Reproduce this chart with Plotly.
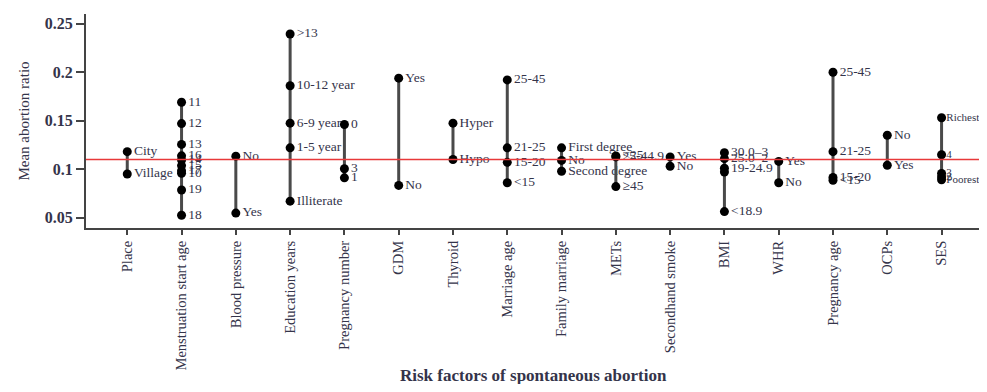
import plotly.graph_objects as go

categories = ["Place", "Menstruation start age", "Blood pressure", "Education years",
              "Pregnancy number", "GDM", "Thyroid", "Marriage age", "Family marriage",
              "METs", "Secondhand smoke", "BMI", "WHR", "Pregnancy age", "OCPs", "SES"]

place_vals = [0.118, 0.095]
place_labels = ["City", "Village"]
menstruation_vals = [0.169, 0.147, 0.1255, 0.1137, 0.1094, 0.1037, 0.0983, 0.0957, 0.0785, 0.0525]
menstruation_labels = ["11", "12", "13", "16", "14", "15", "17", "10", "19", "18"]
bp_vals = [0.1134, 0.0547]
bp_labels = ["No", "Yes"]
education_vals = [0.2394, 0.186, 0.1474, 0.122, 0.067]
education_labels = [">13", "10-12 year", "6-9 year", "1-5 year", "Illiterate"]
pregnancy_number_vals = [0.146, 0.1004, 0.091]
pregnancy_number_labels = ["0", "3", "1"]
gdm_vals = [0.1938, 0.0832]
gdm_labels = ["Yes", "No"]
thyroid_vals = [0.1474, 0.110]
thyroid_labels = ["Hyper", "Hypo"]
marriage_age_vals = [0.192, 0.122, 0.107, 0.086]
marriage_age_labels = ["25-45", "21-25", "15-20", "<15"]
family_marriage_vals = [0.122, 0.109, 0.0978]
family_marriage_labels = ["First degree", "No", "Second degree"]
mets_vals = [0.1136, 0.1126, 0.082]
mets_labels = ["<25", "25-44.9", "≥45"]
smoke_vals = [0.1126, 0.103]
smoke_labels = ["Yes", "No"]
bmi_vals = [0.117, 0.1108, 0.101, 0.097, 0.0562]
bmi_labels = ["30.0–3", "25.0–2", "19-24.9", "", "<18.9"]
whr_vals = [0.108, 0.086]
whr_labels = ["Yes", "No"]
pregnancy_age_vals = [0.1999, 0.118, 0.0914, 0.0886]
pregnancy_age_labels = ["25-45", "21-25", "15-20", "<15"]
ocps_vals = [0.135, 0.104]
ocps_labels = ["No", "Yes"]
ses_vals = [0.153, 0.1148, 0.0955, 0.092, 0.089]
ses_labels = ["Richest", "4", "3", "2", "Poorest"]

overall_mean = 0.110

y_tick_vals = [0.05, 0.1, 0.15, 0.2, 0.25]
y_tick_text = ["0.05", "0.1", "0.15", "0.2", "0.25"]

all_vals = [place_vals, menstruation_vals, bp_vals, education_vals, pregnancy_number_vals,
            gdm_vals, thyroid_vals, marriage_age_vals, family_marriage_vals, mets_vals,
            smoke_vals, bmi_vals, whr_vals, pregnancy_age_vals, ocps_vals, ses_vals]
all_labels = [place_labels, menstruation_labels, bp_labels, education_labels,
              pregnancy_number_labels, gdm_labels, thyroid_labels, marriage_age_labels,
              family_marriage_labels, mets_labels, smoke_labels, bmi_labels, whr_labels,
              pregnancy_age_labels, ocps_labels, ses_labels]

FONT = "Liberation Serif"
TXT = "#34344a"

fig = go.Figure()

for cat, vals, labs in zip(categories, all_vals, all_labels):
    fig.add_trace(go.Scatter(
        x=[cat, cat], y=[min(vals), max(vals)], mode="lines",
        line=dict(color="#4a4a4a", width=3), hoverinfo="skip", showlegend=False))
    if cat == "SES":
        # labels drawn from a separate text layer so they sit closer to the dots
        fig.add_trace(go.Scatter(
            x=[cat] * len(vals), y=vals, mode="markers",
            marker=dict(color="black", size=9), hoverinfo="skip", showlegend=False))
        fig.add_trace(go.Scatter(
            x=[cat] * len(vals), y=vals, mode="markers+text", text=labs,
            textposition="middle right", cliponaxis=False,
            textfont=dict(family=FONT, size=11, color=TXT),
            marker=dict(color="rgba(0,0,0,0)", size=6), hoverinfo="skip", showlegend=False))
    else:
        fig.add_trace(go.Scatter(
            x=[cat] * len(vals), y=vals, mode="markers+text", text=labs,
            textposition="middle right", cliponaxis=False,
            textfont=dict(family=FONT, size=13.5, color=TXT),
            marker=dict(color="black", size=9), hoverinfo="skip", showlegend=False))

fig.add_shape(type="line", xref="paper", x0=0, x1=1, yref="y", y0=overall_mean, y1=overall_mean,
              line=dict(color="#e8383a", width=1.5), layer="above")

fig.update_layout(
    width=979, height=376,
    margin=dict(l=78, r=2, t=6, b=156),
    paper_bgcolor="white", plot_bgcolor="white",
    font=dict(family=FONT, color=TXT),
    xaxis=dict(
        type="category", categoryorder="array", categoryarray=categories,
        range=[-0.76, 15.8], showgrid=False, zeroline=False,
        showline=True, linecolor="#444", linewidth=2,
        ticks="outside", ticklen=5, tickwidth=2, tickcolor="#444",
        tickangle=-90, tickfont=dict(family=FONT, size=14.5, color=TXT)),
    yaxis=dict(
        range=[0.0393, 0.26], showgrid=False, zeroline=False,
        showline=True, linecolor="#444", linewidth=2,
        ticks="outside", ticklen=8, tickwidth=2, tickcolor="#444",
        tickvals=y_tick_vals, ticktext=y_tick_text,
        tickfont=dict(family=FONT, size=16, color=TXT, weight="bold"),
        title=dict(text="Mean abortion ratio", font=dict(family=FONT, size=15, color=TXT), standoff=12)),
    annotations=[dict(text="Risk factors of spontaneous abortion", xref="paper", yref="paper",
                      x=0.498, y=0, yshift=-147, showarrow=False, xanchor="center", yanchor="middle",
                      font=dict(family=FONT, size=17, color=TXT, weight="bold"))],
)

fig.write_html("out.html")
